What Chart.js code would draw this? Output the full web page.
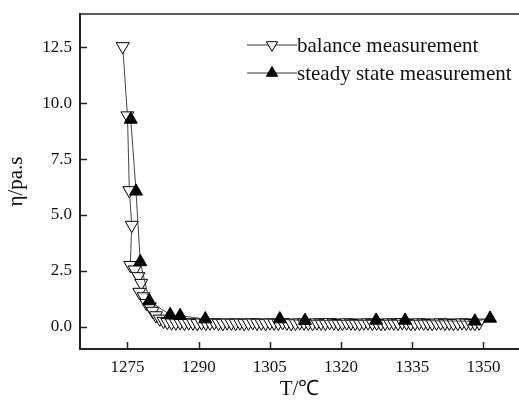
<!DOCTYPE html>
<html>
<head>
<meta charset="utf-8">
<script src="https://cdn.jsdelivr.net/npm/chart.js@4/dist/chart.umd.min.js"></script>
<style>
  body { margin: 0; background: #fff; }
  #wrap { width: 519px; height: 405px; }
</style>
</head>
<body>
<div id="wrap"><canvas id="chart" width="519" height="405"></canvas></div>
<script>
const balanceT = [1274.0, 1275.0, 1275.4, 1275.9, 1275.6, 1276.5, 1277.3, 1277.9, 1277.5, 1278.4, 1279.0, 1279.7,
    1280.3, 1281.0, 1281.8, 1282.6, 1283.4, 1284.3, 1285.2, 1286.1, 1287.0, 1287.9, 1288.8, 1289.7,
    1290.6, 1291.5, 1292.4, 1293.3, 1294.2, 1295.1, 1296.0, 1296.9, 1297.8, 1298.7, 1299.6, 1300.5,
    1301.4, 1302.3, 1303.2, 1304.1, 1305.0, 1305.9, 1306.8, 1307.7, 1308.6, 1309.5, 1310.4, 1311.3,
    1312.2, 1313.1, 1314.0, 1314.9, 1315.8, 1316.7, 1317.6, 1318.5, 1319.4, 1320.3, 1321.2, 1322.1,
    1323.0, 1323.9, 1324.8, 1325.7, 1326.6, 1327.5, 1328.4, 1329.3, 1330.2, 1331.1, 1332.0, 1332.9,
    1333.8, 1334.7, 1335.6, 1336.5, 1337.4, 1338.3, 1339.2, 1340.1, 1341.0, 1341.9, 1342.8, 1343.7,
    1344.6, 1345.5, 1346.4, 1347.3, 1348.2, 1349.1];
const balanceEta = [12.55, 9.45, 6.1, 4.55, 2.75, 2.55, 2.25, 1.95, 1.55, 1.35, 1.05, 0.9,
    0.7, 0.5, 0.35, 0.25, 0.2, 0.18, 0.17, 0.19, 0.16, 0.18, 0.17, 0.15,
    0.18, 0.16, 0.17, 0.19, 0.16, 0.15, 0.18, 0.17, 0.16, 0.18, 0.15, 0.17,
    0.19, 0.16, 0.17, 0.15, 0.18, 0.17, 0.16, 0.19, 0.17, 0.15, 0.16, 0.18,
    0.17, 0.16, 0.15, 0.18, 0.17, 0.16, 0.19, 0.17, 0.15, 0.16, 0.18, 0.17,
    0.16, 0.15, 0.17, 0.18, 0.16, 0.17, 0.15, 0.16, 0.18, 0.17, 0.16, 0.19,
    0.17, 0.15, 0.16, 0.18, 0.17, 0.16, 0.15, 0.17, 0.18, 0.16, 0.17, 0.15,
    0.16, 0.18, 0.17, 0.16, 0.15, 0.17];

const steadyT = [1275.7, 1276.8, 1277.7, 1279.6, 1284.0, 1286.1, 1291.4, 1307.1, 1312.4, 1327.4, 1333.5, 1348.2, 1351.4];
const steadyEta = [9.28, 6.06, 2.9, 1.15, 0.53, 0.49, 0.34, 0.34, 0.27, 0.28, 0.28, 0.24, 0.37];

const xTicks = [1275, 1290, 1305, 1320, 1335, 1350];
const yTicks = [0, 2.5, 5, 7.5, 10, 12.5];
const seriesNames = ["balance measurement", "steady state measurement"];

const ink = "#222";
const serif = "'Liberation Serif', 'Times New Roman', serif";

function toPoints(xs, ys) {
    return xs.map((x, i) => ({ x: x, y: ys[i] }));
}

function triangle(ctx, cx, cy, r, down, filled) {
    const s = down ? -1 : 1;
    ctx.beginPath();
    ctx.moveTo(cx, cy - s * r);
    ctx.lineTo(cx + r * 0.866, cy + s * r * 0.5);
    ctx.lineTo(cx - r * 0.866, cy + s * r * 0.5);
    ctx.closePath();
    ctx.fillStyle = filled ? "#000" : "#fff";
    ctx.fill();
    ctx.stroke();
}

// frame, inward ticks and the legend
const framePlugin = {
    id: "frame",
    afterDraw(chart) {
        const { ctx, chartArea: a, scales: { x, y } } = chart;
        ctx.save();
        ctx.strokeStyle = ink;
        ctx.lineWidth = 1.5;
        ctx.beginPath();
        ctx.moveTo(a.left, a.top);
        ctx.lineTo(a.right, a.top);
        ctx.stroke();

        xTicks.forEach((v) => {
            const px = Math.round(x.getPixelForValue(v)) + 0.5;
            ctx.beginPath();
            ctx.moveTo(px, a.bottom);
            ctx.lineTo(px, a.bottom - 7);
            ctx.stroke();
        });
        yTicks.forEach((v) => {
            const py = Math.round(y.getPixelForValue(v)) + 0.5;
            ctx.beginPath();
            ctx.moveTo(a.left, py);
            ctx.lineTo(a.left + 7, py);
            ctx.stroke();
        });

        const rows = [45, 73];
        ctx.font = "21px " + serif;
        ctx.textBaseline = "middle";
        rows.forEach((ry, i) => {
            ctx.strokeStyle = "#333";
            ctx.lineWidth = 1;
            ctx.beginPath();
            ctx.moveTo(247, ry);
            ctx.lineTo(297, ry);
            ctx.stroke();
            ctx.strokeStyle = "#000";
            triangle(ctx, 272, ry, 6.5, i === 0, i === 1);
            ctx.fillStyle = "#111";
            ctx.fillText(seriesNames[i], 297, ry + 1);
        });
        ctx.restore();
    }
};

new Chart(document.getElementById("chart"), {
    type: "scatter",
    data: {
        datasets: [
            {
                label: seriesNames[0],
                data: toPoints(balanceT, balanceEta),
                order: 2,
                showLine: true,
                borderColor: "#444",
                borderWidth: 1,
                pointStyle: "triangle",
                rotation: 180,
                pointRadius: 7.5,
                pointBackgroundColor: "#fff",
                pointBorderColor: "#000",
                pointBorderWidth: 1
            },
            {
                label: seriesNames[1],
                data: toPoints(steadyT, steadyEta),
                order: 1,
                showLine: true,
                borderColor: "#444",
                borderWidth: 1,
                pointStyle: "triangle",
                pointRadius: 7.5,
                pointBackgroundColor: "#000",
                pointBorderColor: "#000",
                pointBorderWidth: 1
            }
        ]
    },
    options: {
        responsive: false,
        animation: false,
        layout: { autoPadding: false, padding: { top: 14, right: 0, left: 0, bottom: 0 } },
        plugins: { legend: { display: false }, tooltip: { enabled: false } },
        scales: {
            x: {
                type: "linear",
                min: 1265,
                max: 1357.5,
                afterFit: (s) => { s.height = 56; s.paddingLeft = 0; s.paddingRight = 0; },
                afterBuildTicks: (s) => { s.ticks = xTicks.map((v) => ({ value: v })); },
                grid: { display: false, drawTicks: false },
                border: { display: true, color: ink, width: 2 },
                ticks: {
                    padding: 8,
                    color: "#111",
                    font: { family: serif, size: 17 },
                    callback: (v) => String(v)
                },
                title: {
                    display: true,
                    text: "T/℃",
                    color: "#111",
                    font: { family: serif, size: 21 },
                    padding: 3
                }
            },
            y: {
                min: -1,
                max: 14,
                afterFit: (s) => { s.width = 80; s.paddingTop = 0; s.paddingBottom = 0; },
                afterBuildTicks: (s) => { s.ticks = yTicks.map((v) => ({ value: v })); },
                grid: { display: false, drawTicks: false },
                border: { display: true, color: ink, width: 2 },
                ticks: {
                    padding: 8,
                    color: "#111",
                    font: { family: serif, size: 17 },
                    callback: (v) => v.toFixed(1)
                },
                title: {
                    display: true,
                    text: "η/pa.s",
                    color: "#111",
                    font: { family: serif, size: 21 },
                    padding: 4
                }
            }
        }
    },
    plugins: [framePlugin]
});
</script>
</body>
</html>
